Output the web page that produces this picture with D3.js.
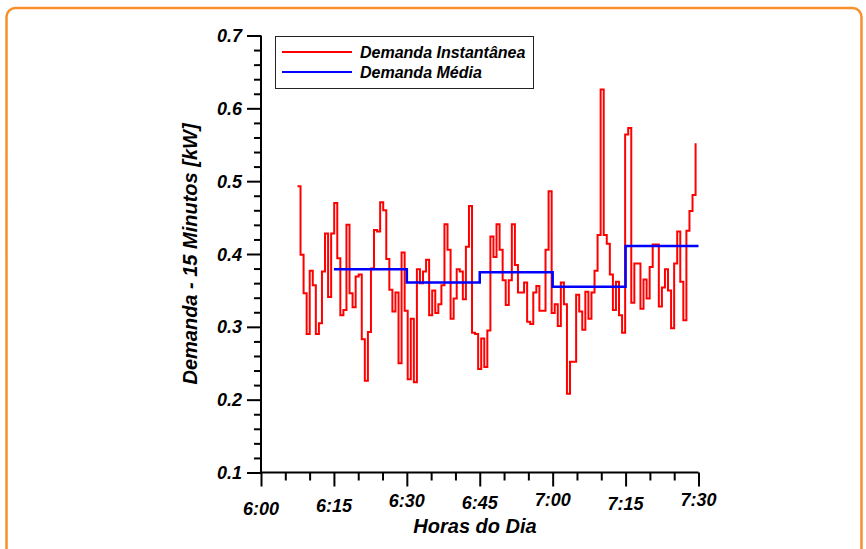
<!DOCTYPE html>
<html>
<head>
<meta charset="utf-8">
<script src="https://cdn.jsdelivr.net/npm/d3@7"></script>
<style>
  html, body { margin: 0; padding: 0; background: #fff; }
  svg { display: block; font-family: "Liberation Sans", Arial, sans-serif; }
</style>
</head>
<body>
<svg id="chart" width="866" height="549"></svg>
<script>
// time in minutes after 6:00
const instStartMin = 7.5;
const instStepSec = 37.8;
const demandaInstantanea = [
  0.493, 0.399, 0.346, 0.290, 0.377, 0.357, 0.290, 0.305, 0.376, 0.428, 0.341, 0.428,
  0.470, 0.394, 0.316, 0.323, 0.440, 0.346, 0.327, 0.369, 0.372,
  0.283, 0.226, 0.293, 0.380, 0.433, 0.431, 0.471, 0.460, 0.393, 0.351, 0.321, 0.347,
  0.250, 0.402, 0.322, 0.228, 0.311, 0.224, 0.379, 0.360, 0.376, 0.392,
  0.316, 0.350, 0.319, 0.331, 0.357, 0.441, 0.406, 0.311, 0.339, 0.379, 0.376, 0.338,
  0.410, 0.466, 0.292, 0.290, 0.242, 0.284, 0.245, 0.295, 0.424, 0.396,
  0.441, 0.406, 0.364, 0.330, 0.364, 0.441, 0.385, 0.347, 0.347, 0.361, 0.307, 0.304,
  0.347, 0.356, 0.322, 0.322, 0.406, 0.486, 0.319, 0.331, 0.301, 0.361, 0.331,
  0.208, 0.252, 0.252, 0.344, 0.321, 0.296, 0.348, 0.311, 0.347, 0.377, 0.426, 0.626,
  0.426, 0.414, 0.372, 0.323, 0.362, 0.316, 0.292, 0.564, 0.573,
  0.333, 0.387, 0.387, 0.325, 0.365, 0.339, 0.382, 0.413, 0.413, 0.328, 0.354, 0.379,
  0.350, 0.298, 0.387, 0.431, 0.362, 0.309, 0.432, 0.459, 0.481, 0.552
];

// 15 minute averages
const mediaStartMin = [15, 30, 45, 60, 75, 90];
const demandaMedia = [0.379, 0.361, 0.375, 0.355, 0.411, 0.411];

const xTickMin = [0, 15, 30, 45, 60, 75, 90];
const xTickLabels = ['6:00', '6:15', '6:30', '6:45', '7:00', '7:15', '7:30'];
const yTickVals = [0.1, 0.2, 0.3, 0.4, 0.5, 0.6, 0.7];

const seriesNames = ['Demanda Instantânea', 'Demanda Média'];
const seriesColors = ['#ff0000', '#0000ff'];

const svg = d3.select('#chart');

// orange frame around the figure
svg.append('rect')
  .attr('x', 6.5).attr('y', 8)
  .attr('width', 855).attr('height', 620)
  .attr('rx', 9)
  .attr('fill', 'none')
  .attr('stroke', '#f7902a')
  .attr('stroke-width', 2.5);

const x = d3.scaleLinear().domain([0, 90]).range([261, 698.5]);
const y = d3.scaleLinear().domain([0.1, 0.7]).range([472.5, 35.5]);

// axes: major ticks long, minor ticks short
const xAxis = svg.append('g').attr('transform', 'translate(0,472.5)');
xAxis.call(d3.axisBottom(x).tickValues(d3.range(0, 91, 5)).tickSize(7).tickFormat(''));
xAxis.call(g => g.selectAll('.tick line')
  .attr('y2', d => d % 15 === 0 ? 14 : 8));
xAxis.select('.domain').attr('d', `M${x(0)},0H${x(90)}`);

const yAxis = svg.append('g').attr('transform', 'translate(261,0)');
yAxis.call(d3.axisLeft(y).tickValues(d3.range(0.1, 0.7001, 0.02)).tickFormat(''));
yAxis.call(g => g.selectAll('.tick line')
  .attr('x2', d => Math.abs(Math.round(d * 10) - d * 10) < 1e-6 ? -14 : -7));
yAxis.select('.domain').attr('d', `M0,${y(0.1)}V${y(0.7)}`);

svg.selectAll('.domain, .tick line')
  .attr('stroke', '#000')
  .attr('stroke-width', 2);

// tick labels (bold italic)
const labelNudge = [9, 6, 1, 3, 0, 4, 0];
svg.append('g').selectAll('text')
  .data(xTickMin)
  .join('text')
  .attr('x', d => x(d))
  .attr('y', (d, i) => 506 + labelNudge[i])
  .attr('text-anchor', 'middle')
  .attr('font-size', 18)
  .attr('font-weight', 'bold')
  .attr('font-style', 'italic')
  .text((d, i) => xTickLabels[i]);

svg.append('g').selectAll('text')
  .data(yTickVals)
  .join('text')
  .attr('x', 242)
  .attr('y', d => y(d) + 6.5)
  .attr('text-anchor', 'end')
  .attr('font-size', 18)
  .attr('font-weight', 'bold')
  .attr('font-style', 'italic')
  .text(d => d.toFixed(1));

// axis titles
svg.append('text')
  .attr('x', 475).attr('y', 533)
  .attr('text-anchor', 'middle')
  .attr('font-size', 20).attr('font-weight', 'bold').attr('font-style', 'italic')
  .text('Horas do Dia');

svg.append('text')
  .attr('transform', 'translate(197,254) rotate(-90)')
  .attr('text-anchor', 'middle')
  .attr('font-size', 20).attr('font-weight', 'bold').attr('font-style', 'italic')
  .text('Demanda - 15 Minutos [kW]');

// series
const instPts = demandaInstantanea.map((v, i) => [instStartMin + i * instStepSec / 60, v]);
const mediaPts = demandaMedia.map((v, i) => [mediaStartMin[i], v]);

const stepLine = d3.line()
  .x(d => x(d[0]))
  .y(d => y(d[1]))
  .curve(d3.curveStepAfter);

svg.append('path')
  .datum(instPts)
  .attr('d', stepLine)
  .attr('fill', 'none')
  .attr('stroke', seriesColors[0])
  .attr('stroke-width', 2);

svg.append('path')
  .datum(mediaPts)
  .attr('d', stepLine)
  .attr('fill', 'none')
  .attr('stroke', seriesColors[1])
  .attr('stroke-width', 2.5);

// legend
const legend = svg.append('g');
legend.append('rect')
  .attr('x', 275.5).attr('y', 36.5)
  .attr('width', 258).attr('height', 52)
  .attr('fill', '#fff')
  .attr('stroke', '#222')
  .attr('stroke-width', 1);

seriesNames.forEach((name, i) => {
  const ly = 52 + i * 20;
  legend.append('line')
    .attr('x1', 282).attr('x2', 352)
    .attr('y1', ly).attr('y2', ly)
    .attr('stroke', seriesColors[i])
    .attr('stroke-width', 2);
  legend.append('text')
    .attr('x', 360).attr('y', ly + 5.5)
    .attr('font-size', 16).attr('font-weight', 'bold').attr('font-style', 'italic')
    .text(name);
});
</script>
</body>
</html>
